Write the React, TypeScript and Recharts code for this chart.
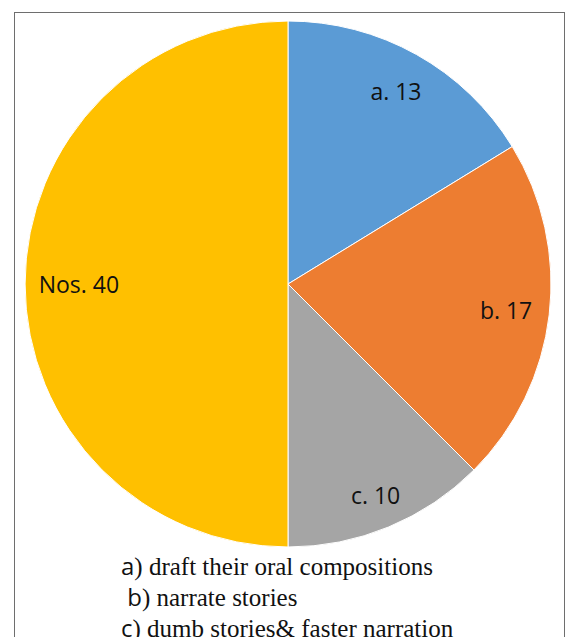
import { PieChart, Pie, Cell } from "recharts";

const labels = ["a. 13", "b. 17", "c. 10", "Nos. 40"];
const values = [13, 17, 10, 40];
const colors = ["#5B9BD5", "#ED7D31", "#A5A5A5", "#FFC000"];
// how far out along each slice the label sits (fraction of radius)
const labelRadius = [0.84, 0.835, 0.87, 0.795];
const notes = [
  { tag: "a", rest: ") draft their oral compositions" },
  { tag: " b", rest: ") narrate stories" },
  { tag: "c", rest: ") dumb stories& faster narration" },
];

const data = labels.map((name, i) => ({ name, value: values[i] }));

const RADIAN = Math.PI / 180;

const renderLabel = (props: any) => {
  const { cx, cy, midAngle, outerRadius, index } = props;
  const r = outerRadius * labelRadius[index];
  const x = cx + r * Math.cos(-midAngle * RADIAN);
  const y = cy + r * Math.sin(-midAngle * RADIAN);
  return (
    <text
      x={x}
      y={y}
      fill="#111"
      textAnchor="middle"
      dominantBaseline="central"
      fontFamily="'Open Sans', sans-serif"
      fontSize={23}
    >
      {labels[index]}
    </text>
  );
};

const App = () => {
  return (
    <div
      style={{
        position: "absolute",
        left: 0,
        top: 0,
        width: 565,
        height: 637,
        overflow: "hidden",
        background: "#fff",
      }}
    >
      <div
        style={{
          position: "absolute",
          left: 14,
          top: 12,
          width: 549,
          height: 700,
          border: "1.5px solid #6e6e6e",
        }}
      />
      <div style={{ position: "absolute", left: 0, top: 0 }}>
        <PieChart width={565} height={560} margin={{ top: 0, right: 0, bottom: 0, left: 0 }}>
          <Pie
            data={data}
            dataKey="value"
            cx={288}
            cy={284}
            outerRadius={263}
            startAngle={90}
            endAngle={-270}
            stroke="#fff"
            strokeWidth={1}
            label={renderLabel}
            labelLine={false}
            isAnimationActive={false}
          >
            {data.map((d, i) => (
              <Cell key={d.name} fill={colors[i]} />
            ))}
          </Pie>
        </PieChart>
      </div>
      {notes.map((n, i) => (
        <div
          key={i}
          style={{
            position: "absolute",
            left: 121,
            top: 551 + i * 31,
            fontFamily: "'Liberation Serif', serif",
            fontSize: 25,
            color: "#111",
            whiteSpace: "pre",
            lineHeight: "30px",
          }}
        >
          <span style={{ fontFamily: "'Open Sans', sans-serif", fontSize: 24 }}>{n.tag}</span>
          {n.rest}
        </div>
      ))}
    </div>
  );
};

export default App;
